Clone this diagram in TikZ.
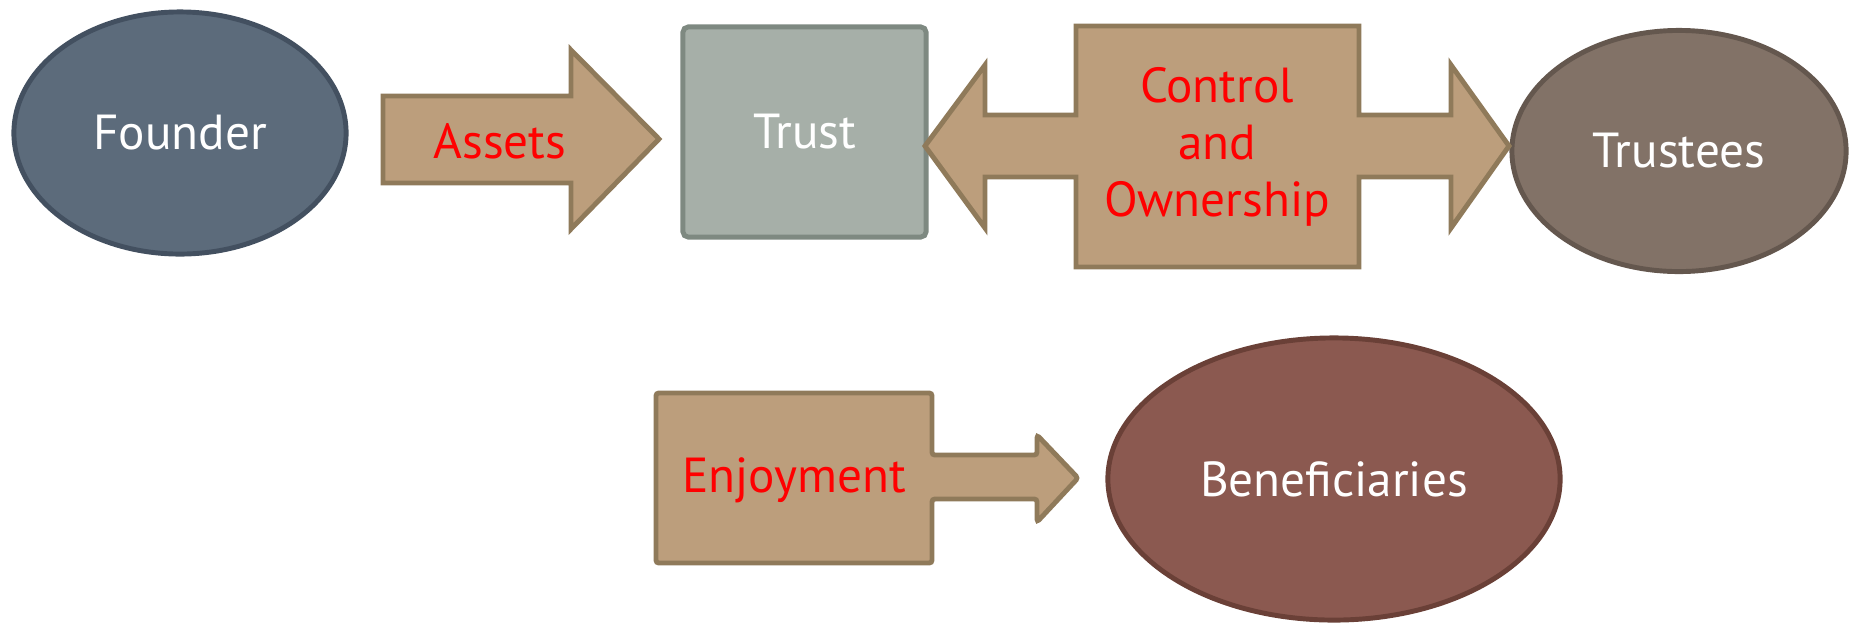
\documentclass[tikz,border=0pt]{standalone}
\usepackage{fontspec}
\setmainfont{PT Sans}
\usepackage{xcolor}
\usepackage{tikz}
\usetikzlibrary{shapes.geometric, positioning}

\definecolor{founderfill}{HTML}{5C6B7B}
\definecolor{founderline}{HTML}{435060}
\definecolor{trustfill}{HTML}{A6AFA8}
\definecolor{trustline}{HTML}{7E8981}
\definecolor{trusteefill}{HTML}{827267}
\definecolor{trusteeline}{HTML}{64574E}
\definecolor{benefill}{HTML}{8B5950}
\definecolor{beneline}{HTML}{6A4037}
\definecolor{arrowfill}{HTML}{BC9E7C}
\definecolor{arrowline}{HTML}{8F7A5A}

\begin{document}
\begin{tikzpicture}[
  x=0.01cm, y=-0.01cm,
  font=\fontsize{14}{16.2}\selectfont,
  party/.style={ellipse, draw, line width=1.4pt, inner sep=0pt, text=white},
  blockarrow/.style={draw=arrowline, fill=arrowfill, line width=1.4pt, line join=miter},
  tag/.style={text=red, align=center, inner sep=0pt}
]
\useasboundingbox (0,0) rectangle (1849,624);

% --- Nodes ---
\node[party, fill=founderfill, draw=founderline, minimum width=3.32cm, minimum height=2.42cm]
  (founder) at (180,133) {Founder};
\node[rectangle, draw=trustline, fill=trustfill, line width=1.4pt, rounded corners=1.5pt,
      minimum width=2.43cm, minimum height=2.10cm, text=white]
  (trust) at (804.5,132) {Trust};
\node[party, fill=trusteefill, draw=trusteeline, minimum width=3.34cm, minimum height=2.41cm]
  (trustees) at (1679,151) {Trustees};
\node[party, fill=benefill, draw=beneline, minimum width=4.52cm, minimum height=2.82cm]
  (benef) at (1334,479) {Beneficiaries};

% Assets: founder -> trust
\draw[blockarrow] (383,96) -- (571,96) -- (571,50) -- (659,139)
  -- (571,229) -- (571,183) -- (383,183) -- cycle;
\node[tag] (assets) at (500,141) {Assets};

% Control and Ownership: trust <-> trustees
\draw[blockarrow] (925,146) -- (985,65) -- (985,115) -- (1076,115) -- (1076,26)
  -- (1359,26) -- (1359,115) -- (1451,115) -- (1451,65) -- (1509,146)
  -- (1451,228) -- (1451,177) -- (1359,177) -- (1359,267) -- (1076,267)
  -- (1076,177) -- (985,177) -- (985,228) -- cycle;
\node[tag] (control) at (1217,147) {Control\\and\\Ownership};

% Enjoyment: callout pointing at the beneficiaries
\draw[blockarrow, rounded corners=0.8pt] (656,393) -- (932,393) -- (932,455)
  -- (1037,455) -- (1037,435) -- (1078,478) -- (1037,522) -- (1037,499)
  -- (932,499) -- (932,563) -- (656,563) -- cycle;
\node[tag] (enjoy) at (794,480) {Enjoyment};

\end{tikzpicture}
\end{document}
